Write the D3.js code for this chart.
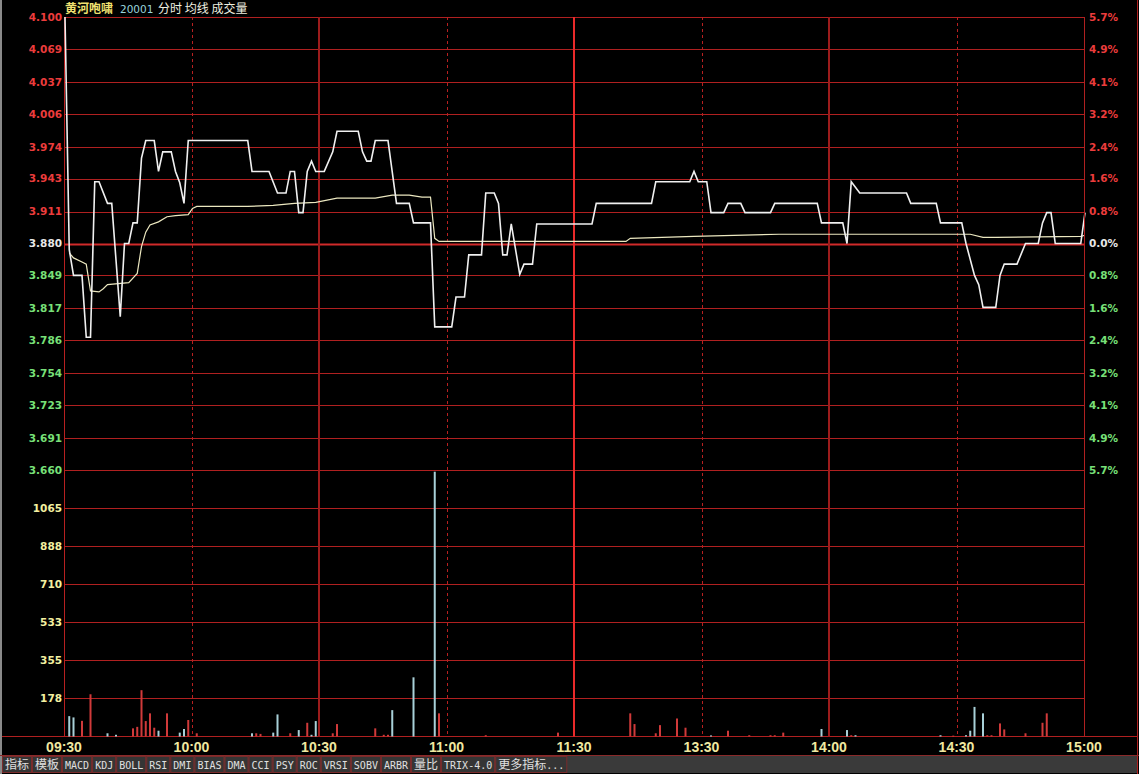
<!DOCTYPE html>
<html>
<head>
<meta charset="utf-8">
<script src="https://cdn.jsdelivr.net/npm/d3@7"></script>
<style>
html,body{margin:0;padding:0;background:#000;}
svg{display:block;}
</style>
</head>
<body>
<div id="chart"></div>
<script>
// ---------- DATA ----------
const titleName = "黄河咆啸";
const titleCode = "20001";
const titleItems = "分时 均线 成交量";

const timeLabels = ["09:30","10:00","10:30","11:00","11:30","13:30","14:00","14:30","15:00"];
const timeTickMinute = [0,30,60,90,120,150,180,210,240];

const priceTickLabels = ["4.100","4.069","4.037","4.006","3.974","3.943","3.911","3.880","3.849","3.817","3.786","3.754","3.723","3.691","3.660"];
const pctTickLabels = ["5.7%","4.9%","4.1%","3.2%","2.4%","1.6%","0.8%","0.0%","0.8%","1.6%","2.4%","3.2%","4.1%","4.9%","5.7%"];
const volTickLabels = ["1065","888","710","533","355","178"];

const prevClose = 3.880;
const priceMin = 3.660, priceMax = 4.100, volMax = 1243;

// price line (minute index from 09:30, price)
const priceMinute = [0,1,2,4,5,6,7,8,10,11,13,14,15,16,17,18,19,21,22,23,25,26,27,28,29,43,44,48,50,52,53,54,55,56,57,58,59,61,63,64,69,70,71,72,73,76,78,81,82,86,87,91,92,94,95,98,99,101,102,103,104,105,107,108,110,111,124,125,138,139,147,148,149,151,152,155,156,159,160,166,167,177,178,183,184,185,187,198,199,205,206,211,212,214,215,216,219,220,221,224,226,229,230,231,232,233,239,240];
const priceValue  = [4.100,3.874,3.849,3.849,3.789,3.789,3.940,3.940,3.919,3.919,3.809,3.880,3.880,3.900,3.900,3.963,3.980,3.980,3.950,3.969,3.969,3.950,3.939,3.919,3.980,3.980,3.950,3.950,3.929,3.929,3.950,3.950,3.910,3.910,3.950,3.960,3.950,3.950,3.969,3.989,3.989,3.969,3.960,3.960,3.980,3.980,3.919,3.919,3.900,3.900,3.799,3.799,3.828,3.828,3.869,3.869,3.929,3.929,3.919,3.869,3.869,3.899,3.850,3.860,3.860,3.899,3.899,3.919,3.919,3.940,3.940,3.950,3.940,3.940,3.910,3.910,3.919,3.919,3.910,3.910,3.919,3.919,3.900,3.900,3.880,3.940,3.929,3.929,3.919,3.919,3.900,3.900,3.880,3.849,3.840,3.818,3.818,3.849,3.860,3.860,3.880,3.880,3.900,3.910,3.910,3.880,3.880,3.910];

// average price line
const avgMinute = [1,2,4,5,6,8,9,10,15,17,18,19,20,22,24,26,29,30,31,43,49,54,59,64,73,77,81,84,86,87,88,132,133,148,168,213,216,219,239,240];
const avgValue  = [3.871,3.866,3.862,3.860,3.834,3.833,3.836,3.840,3.842,3.851,3.877,3.891,3.898,3.901,3.906,3.907,3.908,3.914,3.916,3.916,3.917,3.919,3.920,3.924,3.924,3.927,3.927,3.925,3.925,3.885,3.882,3.882,3.885,3.887,3.889,3.889,3.886,3.886,3.887,3.888];

// volume bars (minute, volume, u = up/red, d = down/cyan)
const volMinute = [1,2,4,6,10,12,16,17,18,19,20,21,22,24,27,28,29,31,44,45,46,49,50,53,55,57,58,59,63,64,73,75,76,77,82,87,88,99,116,133,134,139,140,144,146,152,156,161,166,167,169,178,184,185,186,206,209,212,213,214,216,217,218,220,221,226,230,231];
const volValue  = [95,89,73,197,15,8,38,45,216,72,108,41,27,108,18,35,77,15,15,15,12,18,103,15,30,64,8,72,15,58,38,8,8,123,276,1235,108,6,18,108,58,15,53,84,41,5,27,6,6,6,18,35,30,6,6,6,4,6,27,138,108,6,6,61,33,15,64,108];
const volDir    = ["d","d","u","u","d","d","u","u","u","u","u","u","d","u","d","d","u","u","d","u","u","d","d","u","d","u","d","d","u","u","u","u","u","d","d","d","u","u","u","u","u","u","u","u","u","d","u","u","u","u","u","d","d","u","d","d","u","d","d","d","d","u","u","u","u","u","u","u"];

const toolbarLabels = ["指标","模板","MACD","KDJ","BOLL","RSI","DMI","BIAS","DMA","CCI","PSY","ROC","VRSI","SOBV","ARBR","量比","TRIX-4.0","更多指标..."];

// ---------- LAYOUT ----------
const W = 1139, H = 774;
const plotL = 65, plotR = 1085, plotT = 17, priceBottom = 470, volBottom = 736.5;

const svg = d3.select("#chart").append("svg").attr("width", W).attr("height", H);
svg.append("rect").attr("width", W).attr("height", H).attr("fill", "#000");

const x = d3.scaleLinear().domain([0, 240]).range([plotL, plotR]);
const yP = d3.scaleLinear().domain([priceMin, priceMax]).range([priceBottom, plotT]);
const yV = d3.scaleLinear().domain([0, volMax]).range([volBottom, priceBottom]);

const gridColor = "#b02020";

// horizontal price grid
const priceTickValues = priceTickLabels.map(Number);
svg.append("g").selectAll("line").data(priceTickValues).join("line")
  .attr("x1", plotL - 1).attr("x2", plotR)
  .attr("y1", d => Math.round(yP(d)) + 0.5).attr("y2", d => Math.round(yP(d)) + 0.5)
  .attr("stroke", d => Math.abs(d - prevClose) < 1e-6 ? "#d02a2a" : gridColor)
  .attr("stroke-width", d => Math.abs(d - prevClose) < 1e-6 ? 2 : 1);

// horizontal volume grid
const volTickValues = volTickLabels.map(Number);
svg.append("g").selectAll("line").data(volTickValues).join("line")
  .attr("x1", plotL - 1).attr("x2", plotR)
  .attr("y1", d => Math.round(yV(d)) + 0.5).attr("y2", d => Math.round(yV(d)) + 0.5)
  .attr("stroke", gridColor).attr("stroke-width", 1);

// baseline
svg.append("line").attr("x1", 2).attr("x2", 1137)
  .attr("y1", volBottom).attr("y2", volBottom).attr("stroke", gridColor);

// vertical grid
const isSolidInner = i => i % 2 === 0 && i > 0 && i < timeTickMinute.length - 1;
svg.append("g").selectAll("line").data(timeTickMinute).join("line")
  .attr("x1", (d, i) => isSolidInner(i) ? Math.round(x(d)) - 1 : Math.round(x(d)) - 0.5)
  .attr("x2", (d, i) => isSolidInner(i) ? Math.round(x(d)) - 1 : Math.round(x(d)) - 0.5)
  .attr("y1", plotT).attr("y2", volBottom)
  .attr("stroke", (d, i) => i === 4 ? "#ea2a2a" : (isSolidInner(i) ? "#9c1c1c" : "#b82020"))
  .attr("stroke-width", (d, i) => isSolidInner(i) ? 2 : 1)
  .attr("stroke-dasharray", (d, i) => (i % 2 === 0) ? null : "3,3");

// left axis labels (price)
const labelFont = "DejaVu Sans, sans-serif";
svg.append("g").selectAll("text").data(priceTickLabels).join("text")
  .attr("x", 62).attr("y", d => yP(+d)).attr("dy", "0.36em")
  .attr("text-anchor", "end")
  .attr("font-family", labelFont).attr("font-size", 10.5).attr("font-weight", "bold")
  .attr("fill", d => +d > prevClose + 1e-6 ? "#ec3c3c" : (+d < prevClose - 1e-6 ? "#78e078" : "#e8e8e8"))
  .text(d => d);

// right axis labels (percent)
svg.append("g").selectAll("text").data(pctTickLabels).join("text")
  .attr("x", 1089).attr("y", (d, i) => yP(priceTickValues[i])).attr("dy", "0.36em")
  .attr("font-family", labelFont).attr("font-size", 10.5).attr("font-weight", "bold")
  .attr("fill", (d, i) => priceTickValues[i] > prevClose + 1e-6 ? "#ec3c3c" : (priceTickValues[i] < prevClose - 1e-6 ? "#78e078" : "#e8e8e8"))
  .text(d => d);

// volume labels
svg.append("g").selectAll("text").data(volTickLabels).join("text")
  .attr("x", 62).attr("y", d => yV(+d)).attr("dy", "0.36em")
  .attr("text-anchor", "end")
  .attr("font-family", labelFont).attr("font-size", 10.5).attr("font-weight", "bold")
  .attr("fill", "#f4f0a0")
  .text(d => d);

// time labels
svg.append("g").selectAll("text").data(timeLabels).join("text")
  .attr("x", (d, i) => x(timeTickMinute[i]) - 1).attr("y", 752)
  .attr("text-anchor", "middle")
  .attr("font-family", "Liberation Sans, Arial, sans-serif").attr("font-size", 14).attr("font-weight", "bold")
  .attr("fill", "#f0e8a0")
  .text(d => d);

// volume bars
const bars = volMinute.map((m, i) => ({m, v: volValue[i], dir: volDir[i]}));
svg.append("g").selectAll("rect").data(bars).join("rect")
  .attr("x", d => x(d.m) - 1).attr("width", 2)
  .attr("y", d => yV(d.v)).attr("height", d => Math.max(1, volBottom - yV(d.v)))
  .attr("fill", d => d.dir === "u" ? "#d03a3a" : "#a8d0d8");

// average line
const avgPts = avgMinute.map((m, i) => [m, avgValue[i]]);
svg.append("path").datum(avgPts)
  .attr("d", d3.line().x(d => x(d[0])).y(d => yP(d[1])))
  .attr("fill", "none").attr("stroke", "#ece8c0").attr("stroke-width", 1.2);

// price line
const pricePts = priceMinute.map((m, i) => [m, priceValue[i]]);
svg.append("path").datum(pricePts)
  .attr("d", d3.line().x(d => x(d[0])).y(d => yP(d[1])))
  .attr("fill", "none").attr("stroke", "#f0f0f0").attr("stroke-width", 1.6);

// title
const title = svg.append("text").attr("y", 13).attr("font-family", "Noto Sans CJK SC, sans-serif").attr("font-size", 12);
title.append("tspan").attr("x", 65).attr("fill", "#f0e070").attr("font-weight", "bold").text(titleName);
title.append("tspan").attr("x", 120).attr("fill", "#98d4dc").attr("font-family", "DejaVu Sans, sans-serif").attr("font-size", 10.5).text(titleCode);
title.append("tspan").attr("x", 158).attr("fill", "#f0f0e0").text(titleItems);

// outer frame lines
svg.append("line").attr("x1", plotR - 0.5).attr("x2", plotR - 0.5).attr("y1", plotT).attr("y2", volBottom).attr("stroke", gridColor);
svg.append("line").attr("x1", 1137.5).attr("x2", 1137.5).attr("y1", 0).attr("y2", H).attr("stroke", "#b02020");
svg.append("rect").attr("x", 0).attr("y", 0).attr("width", 2).attr("height", H).attr("fill", "#8a8a8a");

// toolbar
const tbY = 756, tbH = 17;
svg.append("rect").attr("x", 2).attr("y", tbY).attr("width", 1135).attr("height", tbH).attr("fill", "#3a3a3a");
svg.append("line").attr("x1", 0).attr("x2", W).attr("y1", tbY - 0.5).attr("y2", tbY - 0.5).attr("stroke", "#8a2a2a");
const isCJK = ch => /[\u3000-\u9fff]/.test(ch);
const tb = svg.append("g");
let bx = 2;
toolbarLabels.forEach(lbl => {
  const g = tb.append("g");
  const r = g.append("rect").attr("y", tbY + 0.5).attr("height", tbH - 1).attr("fill", "#353535").attr("stroke", "#7a2c2c");
  const t = g.append("text").attr("y", tbY + 13).attr("fill", "#e0e0e0");
  const runs = [];
  for (const ch of lbl) {
    const c = isCJK(ch);
    if (runs.length && runs[runs.length - 1].c === c) runs[runs.length - 1].s += ch;
    else runs.push({c, s: ch});
  }
  runs.forEach(rn => {
    t.append("tspan")
      .attr("font-family", rn.c ? "Noto Sans CJK SC, sans-serif" : "DejaVu Sans Mono, monospace")
      .attr("font-size", rn.c ? 12 : 10)
      .text(rn.s);
  });
  const w = t.node().getComputedTextLength() + 5;
  r.attr("x", bx + 0.5).attr("width", w);
  t.attr("x", bx + 3);
  bx += w + 1;
});
</script>
</body>
</html>
